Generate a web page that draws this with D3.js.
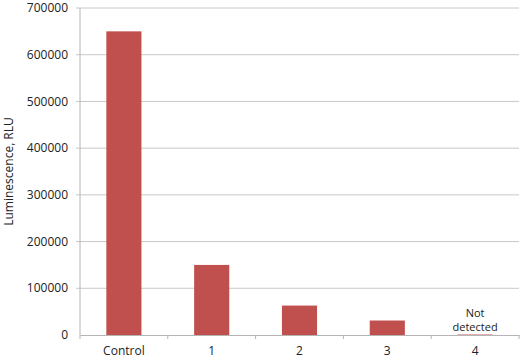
<!DOCTYPE html>
<html>
<head>
<meta charset="utf-8">
<script src="https://cdn.jsdelivr.net/npm/d3@7"></script>
<style>
  body { margin: 0; background: #fff; }
  text { font-family: "Open Sans", "DejaVu Sans", sans-serif; }
</style>
</head>
<body>
<svg id="chart"></svg>
<script>
// data
const categories = ["Control", "1", "2", "3", "4"];
const values = [650000, 150000, 63000, 31000, 1000];
const yTicks = [0, 100000, 200000, 300000, 400000, 500000, 600000, 700000];
const notes = ["", "", "", "", "Not detected"];

const width = 524, height = 363;
const margin = { top: 8, right: 5, bottom: 28, left: 80 };

const svg = d3.select("#chart")
  .attr("width", width)
  .attr("height", height);

const x = d3.scaleBand()
  .domain(categories)
  .range([margin.left, width - margin.right])
  .paddingInner(0.6)
  .paddingOuter(0.3);

const y = d3.scaleLinear()
  .domain([0, 700000])
  .range([height - margin.bottom, margin.top]);

// gridlines
svg.append("g")
  .selectAll("line")
  .data(yTicks.slice(1))
  .enter()
  .append("line")
  .attr("x1", margin.left - 4)
  .attr("x2", width - margin.right)
  .attr("y1", d => y(d))
  .attr("y2", d => y(d))
  .attr("stroke", "#c8c8c8")
  .attr("stroke-width", 1);

// y axis line + labels
svg.append("line")
  .attr("x1", margin.left).attr("x2", margin.left)
  .attr("y1", y(700000)).attr("y2", y(0))
  .attr("stroke", "#b4b4b4");

svg.append("g")
  .selectAll("text")
  .data(yTicks)
  .enter()
  .append("text")
  .attr("x", margin.left - 12)
  .attr("y", d => y(d))
  .attr("dy", "0.35em")
  .attr("text-anchor", "end")
  .attr("font-size", "12px")
  .attr("fill", "#222")
  .text(d => d);

// bars
svg.append("g")
  .selectAll("rect")
  .data(values)
  .enter()
  .append("rect")
  .attr("x", (d, i) => x(categories[i]))
  .attr("y", d => y(d))
  .attr("width", x.bandwidth())
  .attr("height", d => y(0) - y(d))
  .attr("fill", "#c0504d");

// x axis
const xAxis = d3.axisBottom(x).tickSize(0).tickPadding(11);
const gx = svg.append("g")
  .attr("transform", `translate(0,${y(0)})`)
  .call(xAxis);
gx.select(".domain").attr("stroke", "#b4b4b4");
gx.selectAll("text")
  .attr("font-size", "12px")
  .attr("fill", "#222")
  .style("font-family", "\"Open Sans\", \"DejaVu Sans\", sans-serif");

// boundary ticks between categories
const bounds = d3.range(categories.length + 1).map(i => margin.left + i * (width - margin.right - margin.left) / categories.length);
svg.append("g")
  .selectAll("line")
  .data(bounds)
  .enter()
  .append("line")
  .attr("x1", d => d).attr("x2", d => d)
  .attr("y1", y(0)).attr("y2", y(0) + 4)
  .attr("stroke", "#b4b4b4");

// "Not detected" notes
notes.forEach((n, i) => {
  if (!n) return;
  const words = n.split(" ");
  const cx = x(categories[i]) + x.bandwidth() / 2;
  const t = svg.append("text")
    .attr("x", cx)
    .attr("y", y(0) - 18)
    .attr("text-anchor", "middle")
    .attr("font-size", "11px")
    .attr("fill", "#222");
  words.forEach((w, k) => {
    t.append("tspan")
      .attr("x", cx)
      .attr("dy", k === 0 ? 0 : "1.25em")
      .text(w);
  });
});

// y axis title
svg.append("text")
  .attr("transform", `translate(13,${(y(0) + y(700000)) / 2}) rotate(-90)`)
  .attr("text-anchor", "middle")
  .attr("font-size", "12px")
  .attr("fill", "#222")
  .text("Luminescence, RLU");
</script>
</body>
</html>
